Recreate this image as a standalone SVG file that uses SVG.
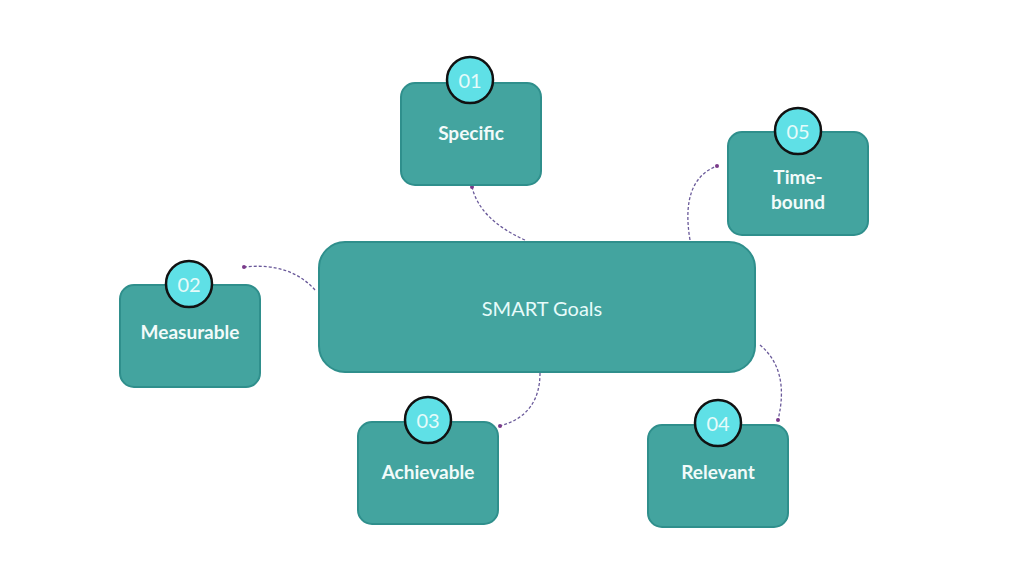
<svg xmlns="http://www.w3.org/2000/svg" width="1024" height="576" viewBox="0 0 1024 576">
<style>
.box{fill:#43a49f;stroke:#2f8f8c;stroke-width:2}
.num{fill:#5fe0e6;stroke:#111;stroke-width:2.5}
.nt{font-family:"Lato","Liberation Sans",sans-serif;fill:#e6fbfa;font-size:20px;text-anchor:middle}
.lt{font-family:"Lato","Liberation Sans",sans-serif;fill:#f2fbfa;font-size:19px;font-weight:bold;text-anchor:middle}
.c{fill:none;stroke:#6a5a9a;stroke-width:1.3;stroke-dasharray:3 2;marker-end:url(#dot)}
</style>
<defs><marker id="dot" viewBox="0 0 6 6" refX="3" refY="3" markerWidth="4" markerHeight="4" markerUnits="userSpaceOnUse"><circle cx="3" cy="3" r="3" fill="#7a3a8a"/></marker></defs>
<rect width="1024" height="576" fill="#fff"/>
<g id="connectors">
<path class="c" d="M525 240 Q480 220 472 187"/>
<path class="c" d="M690 240 Q680 180 717 166"/>
<path class="c" d="M315 290 Q290 262 244 267"/>
<path class="c" d="M540 373 Q540 415 500 426"/>
<path class="c" d="M760 345 Q790 370 778 420"/>
</g>
<g id="center"><rect class="box" x="319" y="242" width="436" height="130" rx="26"/><text class="nt" x="542" y="316" font-size="36">SMART Goals</text></g>
<g id="specific"><rect class="box" x="401" y="83" width="140" height="102" rx="14"/><circle class="num" cx="470" cy="80" r="23"/><text class="nt" x="470" y="88">01</text><text class="lt" x="471" y="140">Specific</text></g>
<g id="timebound"><rect class="box" x="728" y="132" width="140" height="103" rx="14"/><circle class="num" cx="798" cy="131" r="23"/><text class="nt" x="798" y="139">05</text><text class="lt" x="798" y="184">Time-</text><text class="lt" x="798" y="209">bound</text></g>
<g id="measurable"><rect class="box" x="120" y="285" width="140" height="102" rx="14"/><circle class="num" cx="189" cy="284" r="23"/><text class="nt" x="189" y="292">02</text><text class="lt" x="190" y="339">Measurable</text></g>
<g id="achievable"><rect class="box" x="358" y="422" width="140" height="102" rx="14"/><circle class="num" cx="428" cy="420" r="23"/><text class="nt" x="428" y="428">03</text><text class="lt" x="428" y="479">Achievable</text></g>
<g id="relevant"><rect class="box" x="648" y="425" width="140" height="102" rx="14"/><circle class="num" cx="718" cy="423" r="23"/><text class="nt" x="718" y="431">04</text><text class="lt" x="718" y="479">Relevant</text></g>
</svg>
